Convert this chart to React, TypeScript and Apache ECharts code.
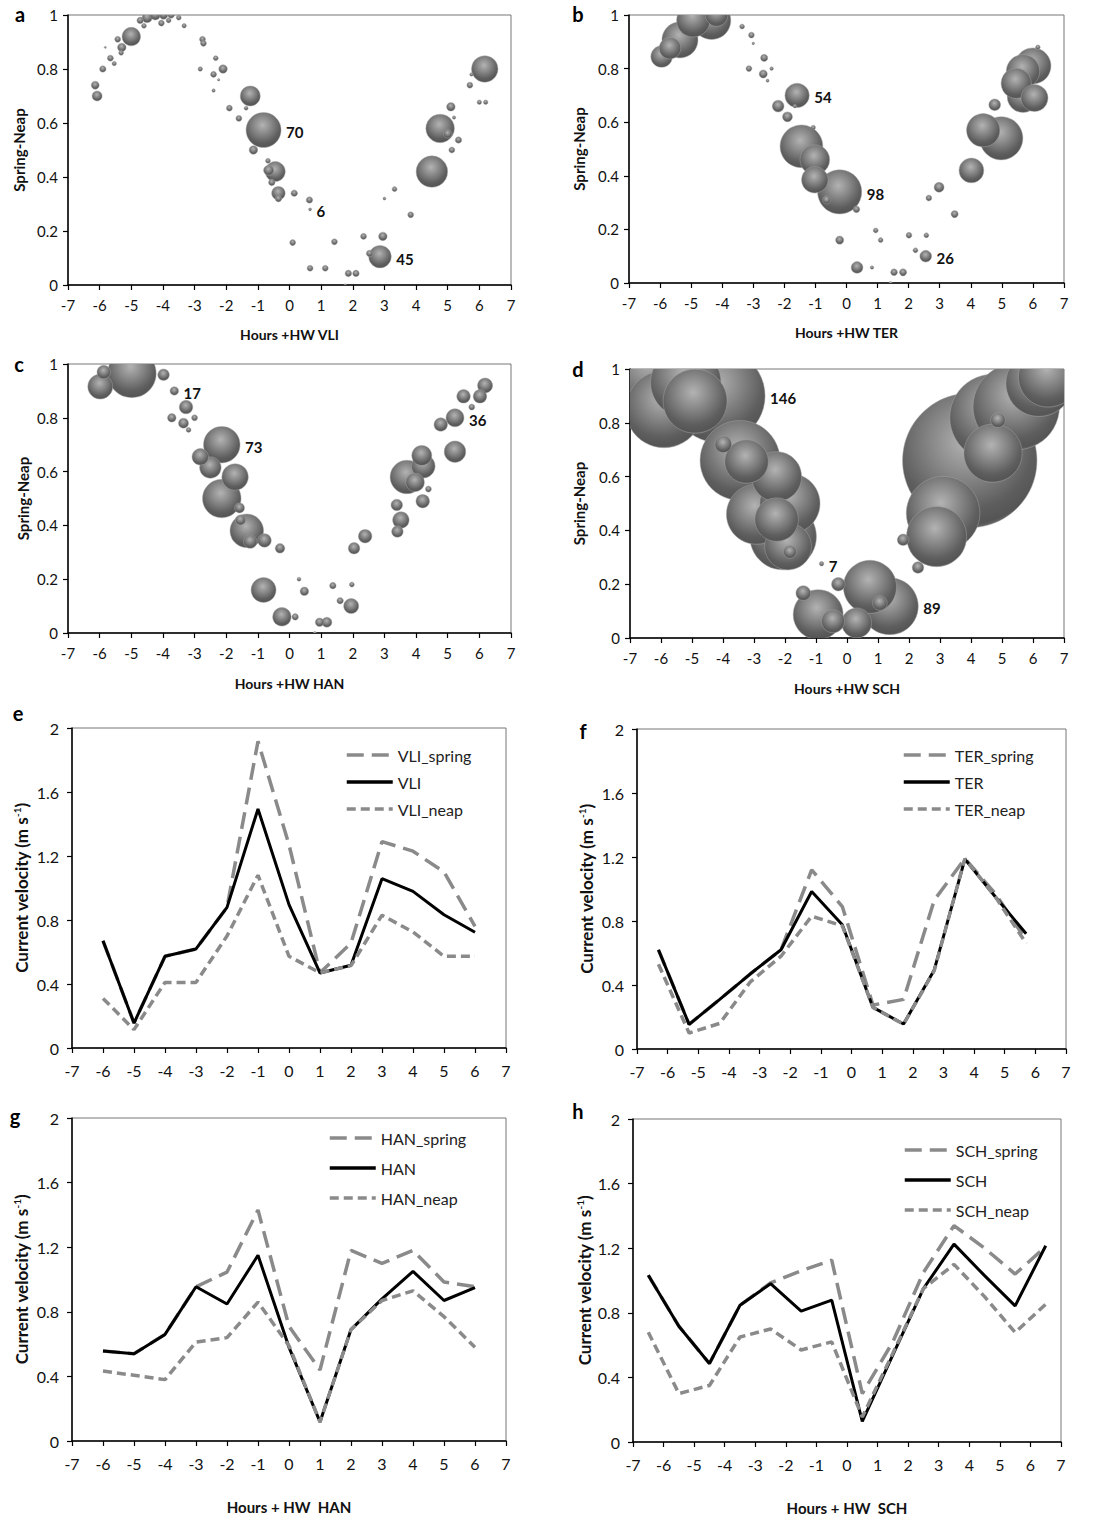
import React, { useEffect, useRef } from 'react';
import * as echarts from 'echarts';

const FONT = 'Lato, "Open Sans", sans-serif';

// ---------- Bubble data: [hours, spring-neap, size, showLabel] ----------
const bubblesA = [
  [-6.14, 0.74, 16, 0], [-6.08, 0.70, 20, 0], [-5.9, 0.80, 13, 0], [-5.82, 0.88, 4, 0], [-5.66, 0.84, 12, 0],
  [-5.54, 0.82, 9, 0], [-5.43, 0.91, 12, 0], [-5.3, 0.88, 17, 0], [-5.32, 0.86, 10, 0], [-5.0, 0.92, 37, 0],
  [-4.72, 0.98, 13, 0], [-4.6, 0.96, 10, 0], [-4.5, 0.99, 20, 0], [-4.24, 1.0, 20, 0], [-3.98, 1.0, 17, 0],
  [-4.05, 0.97, 12, 0], [-3.82, 0.98, 10, 0], [-3.74, 1.0, 13, 0], [-3.5, 0.99, 10, 0], [-3.33, 0.96, 9, 0],
  [-2.82, 0.80, 9, 0], [-2.75, 0.91, 12, 0], [-2.72, 0.895, 12, 0], [-2.4, 0.78, 12, 0], [-2.33, 0.84, 10, 0],
  [-2.4, 0.72, 7, 0], [-2.24, 0.76, 5, 0], [-2.1, 0.80, 17, 0], [-1.9, 0.655, 12, 0], [-1.6, 0.617, 12, 0],
  [-1.24, 0.70, 40, 0], [-1.37, 0.655, 8, 0], [-0.82, 0.574, 70, 1], [-1.14, 0.50, 17, 0], [-0.68, 0.46, 10, 0],
  [-0.45, 0.42, 40, 0], [-0.66, 0.425, 20, 0], [-0.56, 0.38, 13, 0], [-0.35, 0.34, 27, 0], [-0.35, 0.32, 13, 0],
  [0.15, 0.34, 13, 0], [0.63, 0.315, 13, 0], [0.65, 0.28, 6, 1], [0.1, 0.157, 12, 0], [0.65, 0.062, 12, 0],
  [1.13, 0.062, 12, 0], [1.42, 0.16, 12, 0], [1.76, 0.0, 5, 0], [1.86, 0.043, 13, 0], [2.1, 0.043, 13, 0],
  [2.34, 0.18, 12, 0], [2.53, 0.117, 13, 0], [2.86, 0.105, 45, 1], [2.95, 0.18, 17, 0], [3.0, 0.32, 6, 0],
  [3.32, 0.355, 10, 0], [3.83, 0.26, 12, 0], [4.5, 0.42, 63, 0], [4.76, 0.58, 57, 0], [5.1, 0.66, 17, 0],
  [5.13, 0.50, 12, 0], [5.34, 0.537, 13, 0], [5.0, 0.56, 17, 0], [5.2, 0.62, 7, 0], [5.7, 0.74, 12, 0],
  [6.0, 0.677, 9, 0], [6.2, 0.677, 9, 0], [6.17, 0.80, 53, 0], [5.75, 0.78, 7, 0],
];

const bubblesB = [
  [-5.95, 0.845, 48, 0], [-5.68, 0.876, 48, 0], [-5.36, 0.907, 80, 0], [-4.93, 0.98, 74, 0], [-4.34, 0.98, 85, 0],
  [-4.18, 1.0, 50, 0], [-3.36, 0.957, 11, 0], [-3.06, 0.925, 13, 0], [-3.0, 0.894, 6, 0], [-3.14, 0.80, 13, 0],
  [-2.65, 0.84, 16, 0], [-2.68, 0.78, 18, 0], [-2.54, 0.755, 7, 0], [-2.41, 0.80, 8, 0], [-1.59, 0.70, 54, 1],
  [-2.2, 0.66, 26, 0], [-1.9, 0.62, 22, 0], [-1.66, 0.66, 8, 0], [-1.45, 0.51, 95, 0], [-1.07, 0.58, 10, 0],
  [-1.02, 0.46, 66, 0], [-1.02, 0.385, 59, 0], [-0.22, 0.34, 98, 1], [-0.64, 0.31, 18, 0], [0.32, 0.275, 15, 0],
  [-0.22, 0.16, 18, 0], [0.34, 0.058, 26, 0], [0.82, 0.058, 8, 0], [0.94, 0.196, 11, 0], [1.1, 0.16, 11, 0],
  [1.42, 0.0, 7, 0], [1.53, 0.04, 15, 0], [1.82, 0.04, 16, 0], [2.01, 0.178, 13, 0], [2.22, 0.122, 11, 0],
  [2.55, 0.10, 26, 1], [2.57, 0.178, 11, 0], [2.65, 0.317, 13, 0], [2.98, 0.357, 22, 0], [3.48, 0.257, 16, 0],
  [4.02, 0.42, 55, 0], [4.4, 0.57, 74, 0], [4.77, 0.665, 26, 0], [4.98, 0.54, 96, 0], [5.46, 0.745, 67, 0],
  [5.68, 0.79, 74, 0], [6.0, 0.81, 80, 0], [5.68, 0.695, 70, 0], [6.05, 0.69, 60, 0], [6.16, 0.88, 10, 0],
];

const bubblesC = [
  [-5.98, 0.916, 50, 0], [-5.87, 0.97, 27, 0], [-4.98, 0.965, 97, 0], [-3.98, 0.96, 23, 0], [-3.64, 0.90, 17, 1],
  [-3.72, 0.80, 17, 0], [-3.27, 0.84, 27, 0], [-3.35, 0.78, 20, 0], [-3.19, 0.755, 10, 0], [-3.0, 0.80, 12, 0],
  [-2.82, 0.655, 33, 0], [-2.5, 0.615, 43, 0], [-2.14, 0.70, 73, 1], [-1.72, 0.58, 53, 0], [-2.14, 0.50, 77, 0],
  [-1.58, 0.465, 20, 0], [-1.55, 0.42, 20, 0], [-1.35, 0.38, 67, 0], [-1.24, 0.34, 27, 0], [-0.79, 0.344, 27, 0],
  [-0.3, 0.315, 19, 0], [-0.82, 0.16, 50, 0], [-0.24, 0.06, 37, 0], [0.18, 0.06, 13, 0], [0.3, 0.2, 8, 0],
  [0.47, 0.155, 17, 0], [0.8, 0.0, 6, 0], [0.95, 0.04, 17, 0], [1.18, 0.04, 20, 0], [1.37, 0.176, 13, 0],
  [1.6, 0.12, 13, 0], [1.95, 0.1, 30, 0], [1.97, 0.18, 10, 0], [2.04, 0.315, 23, 0], [2.39, 0.36, 27, 0],
  [3.39, 0.476, 23, 0], [3.52, 0.42, 33, 0], [3.41, 0.377, 23, 0], [3.71, 0.58, 67, 0], [3.97, 0.56, 37, 0],
  [4.18, 0.66, 40, 0], [4.23, 0.62, 47, 0], [4.21, 0.49, 27, 0], [4.39, 0.535, 12, 0], [4.78, 0.775, 27, 0],
  [5.23, 0.80, 36, 1], [5.23, 0.674, 43, 0], [5.5, 0.88, 27, 0], [5.76, 0.84, 12, 0], [6.02, 0.88, 27, 0],
  [6.18, 0.92, 30, 0],
];

const bubblesD = [
  [-6.3, 0.98, 130, 0], [-5.9, 0.85, 120, 0], [-5.2, 0.95, 110, 0], [-4.9, 0.88, 100, 0], [-4.15, 0.90, 146, 1],
  [-3.45, 0.66, 125, 0], [-3.99, 0.72, 26, 0], [-3.24, 0.656, 68, 0], [-2.27, 0.60, 78, 0], [-2.92, 0.46, 94, 0],
  [-2.27, 0.44, 68, 0], [-1.84, 0.50, 94, 0], [-1.9, 0.34, 73, 0], [-2.06, 0.377, 104, 0], [-1.84, 0.32, 20, 0],
  [-0.82, 0.276, 7, 1], [-1.41, 0.167, 23, 0], [-0.28, 0.20, 21, 0], [-0.93, 0.087, 78, 0], [-0.45, 0.062, 36, 0],
  [0.31, 0.056, 47, 0], [0.74, 0.19, 83, 0], [1.38, 0.118, 89, 1], [1.06, 0.13, 23, 0], [1.81, 0.365, 18, 0],
  [2.29, 0.262, 18, 0], [2.89, 0.377, 94, 0], [3.1, 0.464, 115, 0], [3.96, 0.66, 210, 0], [4.71, 0.687, 91, 0],
  [4.87, 0.81, 23, 0], [4.71, 0.82, 135, 0], [5.46, 0.86, 135, 0], [6.2, 0.947, 104, 0], [6.5, 0.97, 94, 0],
];

// ---------- Velocity data ----------
const hoursE = [-6, -5, -4, -3, -2, -1, 0, 1, 2, 3, 4, 5, 6];
const vliSpring = [0.67, 0.156, 0.573, 0.619, 0.879, 1.917, 1.27, 0.47, 0.656, 1.29, 1.23, 1.10, 0.76];
const vli = [0.67, 0.156, 0.573, 0.619, 0.879, 1.494, 0.896, 0.469, 0.517, 1.058, 0.979, 0.833, 0.723];
const vliNeap = [0.31, 0.115, 0.41, 0.41, 0.70, 1.08, 0.573, 0.47, 0.515, 0.83, 0.725, 0.573, 0.573];

const hoursF = [-6.3, -5.3, -4.3, -3.3, -2.3, -1.3, -0.3, 0.7, 1.7, 2.7, 3.7, 4.7, 5.7];
const terSpring = [0.62, 0.154, 0.31, 0.47, 0.62, 1.12, 0.89, 0.275, 0.31, 0.93, 1.19, 0.97, 0.68];
const ter = [0.62, 0.154, 0.31, 0.47, 0.62, 0.984, 0.776, 0.26, 0.156, 0.494, 1.187, 0.95, 0.72];
const terNeap = [0.53, 0.10, 0.16, 0.42, 0.58, 0.83, 0.77, 0.26, 0.155, 0.49, 1.19, 0.95, 0.66];

const hoursG = [-6, -5, -4, -3, -2, -1, 0, 1, 2, 3, 4, 5, 6];
const hanSpring = [0.557, 0.54, 0.66, 0.955, 1.046, 1.43, 0.71, 0.44, 1.18, 1.10, 1.18, 0.985, 0.955];
const han = [0.557, 0.54, 0.66, 0.955, 0.848, 1.15, 0.58, 0.118, 0.69, 0.88, 1.05, 0.87, 0.95];
const hanNeap = [0.433, 0.407, 0.38, 0.613, 0.64, 0.86, 0.59, 0.118, 0.69, 0.87, 0.93, 0.77, 0.58];

const hoursH = [-6.5, -5.5, -4.5, -3.5, -2.5, -1.5, -0.5, 0.5, 1.5, 2.5, 3.5, 4.5, 5.5, 6.5];
const schSpring = [1.033, 0.717, 0.486, 0.847, 0.985, 1.06, 1.126, 0.30, 0.62, 1.05, 1.34, 1.20, 1.04, 1.21];
const sch = [1.033, 0.717, 0.486, 0.847, 0.98, 0.81, 0.878, 0.128, 0.54, 0.95, 1.225, 1.03, 0.843, 1.215];
const schNeap = [0.68, 0.30, 0.35, 0.65, 0.70, 0.57, 0.62, 0.155, 0.55, 0.95, 1.10, 0.90, 0.678, 0.853];

// ---------- Layout ----------
const grids = [
  { left: 68, top: 15, width: 443, height: 270 },
  { left: 629, top: 15, width: 435, height: 268 },
  { left: 68, top: 364, width: 443, height: 269 },
  { left: 630, top: 369, width: 434, height: 269 },
  { left: 72, top: 728, width: 434, height: 320 },
  { left: 637, top: 729, width: 429, height: 320 },
  { left: 72, top: 1118, width: 434, height: 323 },
  { left: 633, top: 1119, width: 428, height: 323 },
];

const xNames = ['Hours +HW VLI', 'Hours +HW TER', 'Hours +HW HAN', 'Hours +HW SCH', '', '', 'Hours + HW  HAN', 'Hours + HW  SCH'];
const xNameGaps = [42, 42, 43, 43, 0, 0, 58, 58];
const yNameGaps = [42, 43, 38, 44, 42, 42, 42, 40];
const panelLetters = ['a', 'b', 'c', 'd', 'e', 'f', 'g', 'h'];
const letterPos = [[20, 14], [578, 14], [19, 364], [578, 369], [18, 713], [583, 731], [15, 1116], [578, 1111]];
const bubbleScale = [0.5, 0.45, 0.5, 0.64];

const legendPos = [
  { left: 340, top: 742, gap: 11 },
  { left: 897, top: 742, gap: 11 },
  { left: 323, top: 1125, gap: 14 },
  { left: 898, top: 1137, gap: 14 },
];

const GRAY = '#8a8a8a';
const SPRING_DASH = [17, 8];
const NEAP_DASH = [9, 5];

function sphereFill() {
  return {
    type: 'radial', x: 0.47, y: 0.36, r: 0.7,
    colorStops: [
      { offset: 0, color: '#b3b3b3' },
      { offset: 0.35, color: '#8a8a8a' },
      { offset: 0.72, color: '#5e5e5e' },
      { offset: 0.88, color: '#555555' },
      { offset: 1, color: '#8c8c8c' },
    ],
  };
}

function bubbleSeries(idx: number, data: number[][]) {
  const k = bubbleScale[idx];
  const sorted = [...data].sort((p, q) => q[2] - p[2]);
  return {
    type: 'custom',
    name: 'bubbles' + idx,
    xAxisIndex: idx,
    yAxisIndex: idx,
    clip: true,
    data: sorted,
    encode: { x: 0, y: 1 },
    renderItem: (params: any, api: any) => {
      const pt = api.coord([api.value(0), api.value(1)]);
      const size = api.value(2);
      const r = (size * k) / 2;
      const children: any[] = [
        {
          type: 'circle',
          shape: { cx: pt[0], cy: pt[1], r },
          style: { fill: sphereFill(), stroke: 'rgba(165,165,165,0.8)', lineWidth: 0.6 },
        },
      ];
      if (api.value(3) === 1) {
        children.push({
          type: 'text',
          x: pt[0] + r + 5,
          y: pt[1] + 2,
          style: { text: String(size), fill: '#111', font: `bold 15px ${FONT}`, verticalAlign: 'middle', align: 'left' },
        });
      }
      return { type: 'group', children };
    },
  };
}

function lineSeries(idx: number, name: string, hours: number[], vals: number[], kind: 'spring' | 'main' | 'neap') {
  const style =
    kind === 'main'
      ? { color: '#000', width: 3, type: 'solid' }
      : { color: GRAY, width: 3.5, type: kind === 'spring' ? SPRING_DASH : NEAP_DASH };
  return {
    type: 'line',
    name,
    xAxisIndex: idx,
    yAxisIndex: idx,
    data: hours.map((h, i) => [h, vals[i]]),
    symbol: 'none',
    lineStyle: style,
    itemStyle: { color: style.color },
    z: kind === 'spring' ? 2 : kind === 'main' ? 3 : 4,
  };
}

function buildOption() {
  const xAxis: any[] = [];
  const yAxis: any[] = [];
  grids.forEach((g, i) => {
    const isLine = i >= 4;
    const fs = isLine ? 16 : 15;
    xAxis.push({
      type: 'value',
      gridIndex: i,
      min: -7,
      max: 7,
      interval: 1,
      axisLine: { onZero: false, lineStyle: { color: '#000', width: 1.5 } },
      axisTick: { show: true, length: 5, lineStyle: { color: '#000', width: 1.2 } },
      axisLabel: { color: '#111', fontSize: fs, fontFamily: FONT, margin: isLine ? 14 : 12 },
      splitLine: { show: false },
      name: xNames[i],
      nameLocation: 'middle',
      nameGap: xNameGaps[i],
      nameTextStyle: { color: '#111', fontWeight: 'bold', fontSize: isLine ? 15 : 14, fontFamily: FONT },
    });
    yAxis.push({
      type: 'value',
      gridIndex: i,
      min: 0,
      max: isLine ? 2 : 1,
      interval: isLine ? 0.4 : 0.2,
      axisLine: { show: true, onZero: false, lineStyle: { color: '#000', width: 1.5 } },
      axisTick: { show: true, length: 5, lineStyle: { color: '#000', width: 1.2 } },
      axisLabel: {
        color: '#111', fontSize: fs, fontFamily: FONT, margin: isLine ? 13 : 10,
        formatter: (v: number) => String(Math.round(v * 10) / 10),
      },
      splitLine: { show: false },
      name: isLine ? 'Current velocity (m s{sup|-1})' : 'Spring-Neap',
      nameLocation: 'middle',
      nameGap: yNameGaps[i],
      nameTextStyle: {
        color: '#111', fontWeight: 'bold', fontSize: isLine ? 17 : 15, fontFamily: FONT,
        rich: { sup: { fontSize: 10, fontWeight: 'bold', fontFamily: FONT, color: '#111', verticalAlign: 'top', padding: [0, 0, 8, 0] } },
      },
    });
  });

  const series: any[] = [
    bubbleSeries(0, bubblesA),
    bubbleSeries(1, bubblesB),
    bubbleSeries(2, bubblesC),
    bubbleSeries(3, bubblesD),
    lineSeries(4, 'VLI_spring', hoursE, vliSpring, 'spring'),
    lineSeries(4, 'VLI', hoursE, vli, 'main'),
    lineSeries(4, 'VLI_neap', hoursE, vliNeap, 'neap'),
    lineSeries(5, 'TER_spring', hoursF, terSpring, 'spring'),
    lineSeries(5, 'TER', hoursF, ter, 'main'),
    lineSeries(5, 'TER_neap', hoursF, terNeap, 'neap'),
    lineSeries(6, 'HAN_spring', hoursG, hanSpring, 'spring'),
    lineSeries(6, 'HAN', hoursG, han, 'main'),
    lineSeries(6, 'HAN_neap', hoursG, hanNeap, 'neap'),
    lineSeries(7, 'SCH_spring', hoursH, schSpring, 'spring'),
    lineSeries(7, 'SCH', hoursH, sch, 'main'),
    lineSeries(7, 'SCH_neap', hoursH, schNeap, 'neap'),
  ];

  const legendNames = [
    ['VLI_spring', 'VLI', 'VLI_neap'],
    ['TER_spring', 'TER', 'TER_neap'],
    ['HAN_spring', 'HAN', 'HAN_neap'],
    ['SCH_spring', 'SCH', 'SCH_neap'],
  ];
  const legend = legendNames.map((names, i) => ({
    data: names,
    orient: 'vertical',
    left: legendPos[i].left,
    top: legendPos[i].top,
    itemWidth: 46,
    itemHeight: 14,
    itemGap: legendPos[i].gap,
    selectedMode: false,
    itemStyle: { color: 'rgba(0,0,0,0)', opacity: 0, borderWidth: 0 },
    lineStyle: { width: 3.5 },
    textStyle: { fontSize: 16, fontFamily: FONT, color: '#222' },
  }));

  const graphic = panelLetters.map((l, i) => ({
    type: 'text',
    x: letterPos[i][0],
    y: letterPos[i][1],
    style: { text: l, font: `bold 20px ${FONT}`, fill: '#000', align: 'center', verticalAlign: 'middle' },
  }));

  return {
    animation: false,
    backgroundColor: '#fff',
    grid: grids.map((g) => ({ ...g, show: true, borderColor: '#777', borderWidth: 1, backgroundColor: 'transparent' })),
    xAxis,
    yAxis,
    legend,
    graphic,
    series,
  };
}

export default function App() {
  const ref = useRef<HTMLDivElement>(null);
  useEffect(() => {
    document.body.style.margin = '0';
    const chart = echarts.init(ref.current!, null, { renderer: 'svg' });
    chart.setOption(buildOption() as any);
    return () => chart.dispose();
  }, []);
  return <div ref={ref} style={{ width: 1106, height: 1521, background: '#fff' }} />;
}
